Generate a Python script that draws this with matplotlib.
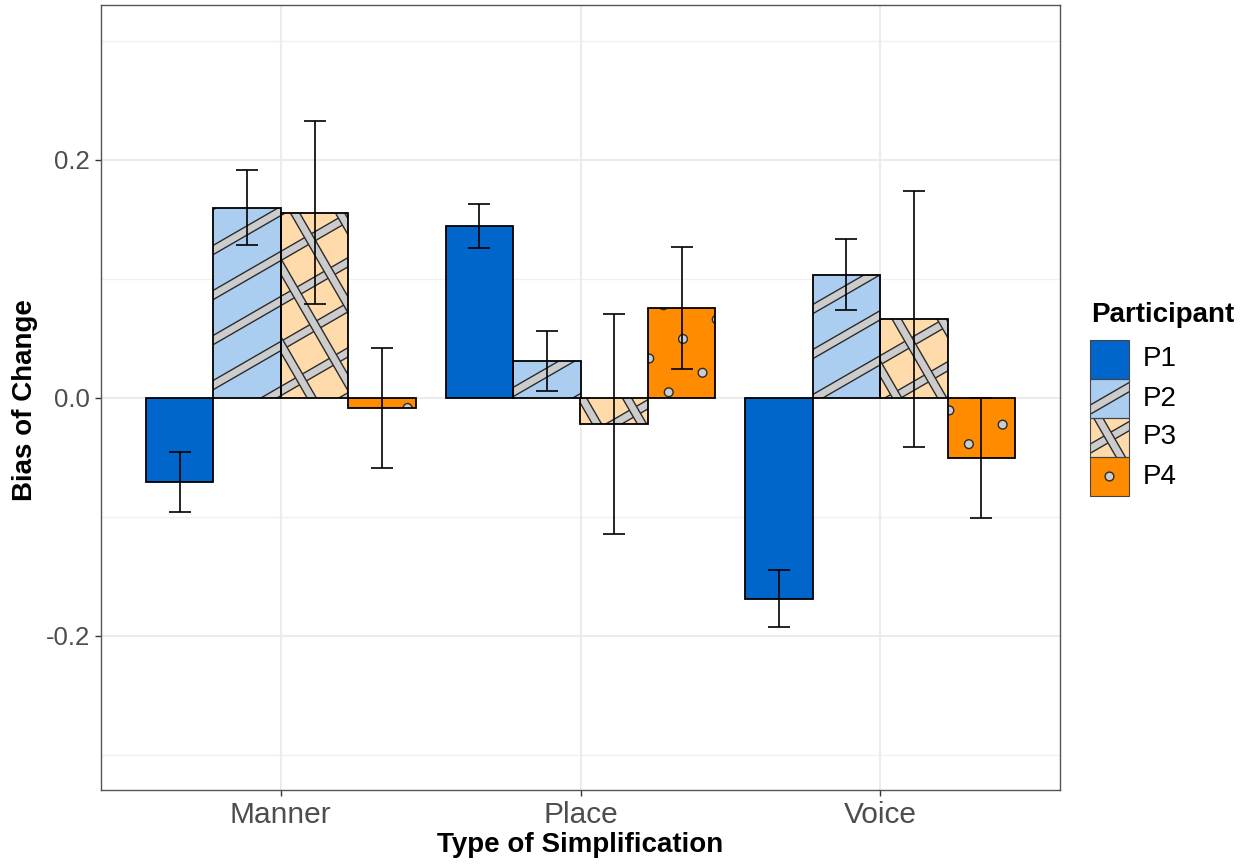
import numpy as np
import matplotlib.pyplot as plt
from matplotlib.patches import Rectangle, Polygon, Circle
from matplotlib.transforms import IdentityTransform

plt.rcParams['font.family'] = ['Liberation Sans', 'DejaVu Sans']

# Data
categories = ['Manner', 'Place', 'Voice']
participants = ['P1', 'P2', 'P3', 'P4']
p1_mean = [-0.0706, 0.1442, -0.1690]
p2_mean = [0.1597, 0.0311, 0.1035]
p3_mean = [0.1557, -0.0221, 0.0666]
p4_mean = [-0.0084, 0.0757, -0.0507]
p1_err = [0.0252, 0.0186, 0.0240]
p2_err = [0.0315, 0.0254, 0.0297]
p3_err = [0.0770, 0.0925, 0.1075]
p4_err = [0.0502, 0.0512, 0.0505]

means = [p1_mean, p2_mean, p3_mean, p4_mean]
errs = [p1_err, p2_err, p3_err, p4_err]
fills = ['#0066CC', '#ABCDEF', '#FFDAAA', '#FF8C00']
patterns = ['none', 'stripe', 'crosshatch', 'circle']

W, H = 1248, 865
fig = plt.figure(figsize=(W / 100, H / 100), dpi=100)
ax = fig.add_axes([101 / W, 75 / H, 959 / W, 785 / H])
ax.set_xlim(0.4, 3.6)
ax.set_ylim(-0.3297, 0.3303)

# grid like theme_bw
for y in [-0.3, -0.1, 0.1, 0.3]:
    ax.axhline(y, color='#F0F0F0', lw=1.0, zorder=0)
for y in [-0.2, 0.0, 0.2]:
    ax.axhline(y, color='#EBEBEB', lw=1.5, zorder=0)
for x in [1, 2, 3]:
    ax.axvline(x, color='#EBEBEB', lw=1.5, zorder=0)

# pattern lattice in pixel space (30 degree rotation)
spacing = 39.0
ua = np.array([0.5, -0.866])   # normal to stripes
ub = np.array([0.866, 0.5])    # stripe direction
origin = np.array([683.0, H - 339.0])
band = 8.0
stripe_face = '#CCCCCC'
stripe_edge = '#2B2B2B'


def band_polys(x0, y0, x1, y1, org, d_norm, d_line):
    corners = np.array([[x0, y0], [x1, y0], [x0, y1], [x1, y1]])
    proj = (corners - org) @ d_norm
    kmin = int(np.floor(proj.min() / spacing)) - 1
    kmax = int(np.ceil(proj.max() / spacing)) + 1
    along = (corners - org) @ d_line
    lo, hi = along.min() - 20, along.max() + 20
    polys = []
    for k in range(kmin, kmax + 1):
        c = org + k * spacing * d_norm
        p1 = c + lo * d_line
        p2 = c + hi * d_line
        off = d_norm * band / 2
        polys.append([p1 - off, p2 - off, p2 + off, p1 + off])
    return polys


def draw_pattern(kind, x0, y0, x1, y1, clip, org):
    items = []
    if kind == 'stripe':
        items += band_polys(x0, y0, x1, y1, org, ua, ub)
    elif kind == 'crosshatch':
        items += band_polys(x0, y0, x1, y1, org, ua, ub)
        items += band_polys(x0, y0, x1, y1, org, ub, ua)
    for pts in items:
        poly = Polygon(pts, closed=True, facecolor=stripe_face, edgecolor=stripe_edge,
                       lw=1.0, transform=IdentityTransform(), zorder=3)
        ax.add_artist(poly)
        poly.set_clip_path(clip)
    if kind == 'circle':
        corners = np.array([[x0, y0], [x1, y0], [x0, y1], [x1, y1]])
        pa = (corners - org) @ ua
        pb = (corners - org) @ ub
        for i in range(int(np.floor(pa.min() / spacing)) - 1, int(np.ceil(pa.max() / spacing)) + 2):
            for j in range(int(np.floor(pb.min() / spacing)) - 1, int(np.ceil(pb.max() / spacing)) + 2):
                c = org + i * spacing * ua + j * spacing * ub
                circ = Circle(c, 4.4, facecolor=stripe_face, edgecolor=stripe_edge, lw=1.0,
                              transform=IdentityTransform(), zorder=3)
                ax.add_artist(circ)
                circ.set_clip_path(clip)


width = 0.225
xs = np.arange(1, len(categories) + 1)
for i in range(len(participants)):
    pos = xs - 0.45 + width * (i + 0.5)
    bars = ax.bar(pos, means[i], width=width, color=fills[i], edgecolor='none', zorder=2)
    for rect in bars:
        bx, by = rect.get_x(), rect.get_y()
        (dx0, dy0) = ax.transData.transform((bx, by))
        (dx1, dy1) = ax.transData.transform((bx + rect.get_width(), by + rect.get_height()))
        draw_pattern(patterns[i], min(dx0, dx1), min(dy0, dy1), max(dx0, dx1), max(dy0, dy1),
                     rect, origin)
    ax.bar(pos, means[i], width=width, color='none', edgecolor='black', lw=1.3, zorder=4)
    ax.errorbar(pos, means[i], yerr=errs[i], fmt='none', ecolor='black', elinewidth=1.2,
                capsize=8, capthick=1.2, zorder=5)

ax.set_xticks(xs)
ax.set_xticklabels(categories, fontsize=21.5, color='#4D4D4D')
ax.set_yticks([-0.2, 0.0, 0.2])
ax.set_yticklabels(['-0.2', '0.0', '0.2'], fontsize=18.5, color='#4D4D4D')
ax.tick_params(axis='both', length=4, width=1.0, color='#333333', pad=4)
for s in ax.spines.values():
    s.set_color('#555555')
    s.set_linewidth(1.0)

fig.text(580 / W, 1 - 845 / H, 'Type of Simplification', fontsize=20, fontweight='bold',
         ha='center', va='center')
fig.text(25 / W, 1 - 400 / H, 'Bias of Change', fontsize=20, fontweight='bold',
         ha='center', va='center', rotation=90)

# legend drawn by hand
fig.text(1091 / W, 1 - 315 / H, 'Participant', fontsize=20, fontweight='bold',
         ha='left', va='center')
key = 39
for i, lab in enumerate(participants):
    top = 340 + i * key
    x0, y0 = 1090, H - top - key
    kr = Rectangle((x0, y0), key, key, facecolor=fills[i], edgecolor='none',
                   transform=IdentityTransform(), zorder=2)
    fig.add_artist(kr)
    center = np.array([x0 + key / 2, y0 + key / 2])
    items = []
    if patterns[i] in ('stripe', 'crosshatch'):
        items += band_polys(x0, y0, x0 + key, y0 + key, center, ua, ub)
    if patterns[i] == 'crosshatch':
        items += band_polys(x0, y0, x0 + key, y0 + key, center, ub, ua)
    for pts in items:
        poly = Polygon(pts, closed=True, facecolor=stripe_face, edgecolor=stripe_edge,
                       lw=1.0, transform=IdentityTransform(), zorder=3)
        fig.add_artist(poly)
        poly.set_clip_path(kr)
    if patterns[i] == 'circle':
        fig.add_artist(Circle(center, 4.4, facecolor=stripe_face, edgecolor=stripe_edge,
                              lw=1.0, transform=IdentityTransform(), zorder=3))
    fig.add_artist(Rectangle((x0, y0), key, key, facecolor='none', edgecolor='#444444',
                             lw=0.8, transform=IdentityTransform(), zorder=4))
    fig.text(1143 / W, (y0 + key / 2) / H, lab, fontsize=20, ha='left', va='center')

fig.savefig('out.png', dpi=100)
